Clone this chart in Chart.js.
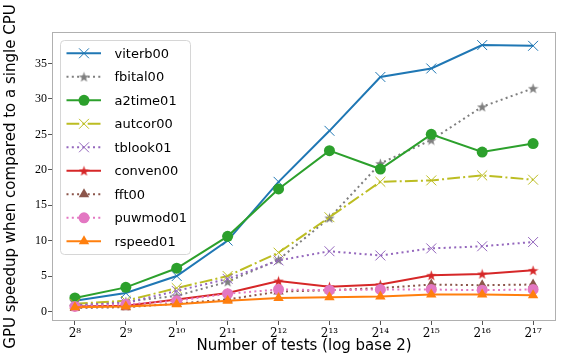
<!DOCTYPE html>
<html>
<head>
<meta charset="utf-8">
<script src="https://cdn.jsdelivr.net/npm/chart.js@4.4.1/dist/chart.umd.min.js"></script>
<style>
  html, body { margin: 0; padding: 0; background: #fff; }
  #wrap { width: 564px; height: 362px; }
</style>
</head>
<body>
<div id="wrap"><canvas id="speedupChart" width="564" height="362"></canvas></div>
<script>
// x values are the exponents of 2 (number of tests = 2^n)
const exponents = [8, 9, 10, 11, 12, 13, 14, 15, 16, 17];
const yTicks = [0, 5, 10, 15, 20, 25, 30, 35];

const viterb00 = [1.5, 2.6, 5.0, 10.0, 18.3, 25.5, 33.1, 34.3, 37.6, 37.5];
const fbital00 = [0.8, 1.4, 2.2, 4.2, 7.3, 13.2, 20.9, 24.2, 28.9, 31.5];
const a2time01 = [1.9, 3.4, 6.1, 10.6, 17.3, 22.7, 20.1, 25.0, 22.5, 23.7];
const autcor00 = [1.1, 1.5, 3.3, 5.0, 8.3, 13.3, 18.3, 18.5, 19.2, 18.6];
const tblook01 = [0.9, 1.2, 2.9, 4.6, 7.2, 8.5, 7.9, 8.9, 9.2, 9.8];
const conven00 = [0.7, 0.8, 1.7, 2.6, 4.3, 3.5, 3.8, 5.1, 5.3, 5.8];
const fft00    = [0.5, 0.6, 1.1, 1.7, 2.8, 3.0, 3.3, 3.8, 3.7, 3.8];
const puwmod01 = [0.7, 1.0, 1.5, 2.5, 3.1, 3.0, 3.1, 3.1, 3.0, 3.1];
const rspeed01 = [0.6, 0.7, 1.0, 1.5, 1.9, 2.0, 2.1, 2.4, 2.4, 2.3];

const DOTTED = [2, 3.3];
const DASHDOT = [12.8, 3.2, 2, 3.2];
const frameColor = '#b0b0b0';

// filled five point star, used as a pointStyle image
function starImage(color, size) {
  const c = document.createElement('canvas');
  c.width = size; c.height = size;
  const g = c.getContext('2d');
  const R = size / 2, r = R * 0.4;
  g.beginPath();
  for (let i = 0; i < 10; i++) {
    const a = -Math.PI / 2 + i * Math.PI / 5;
    const rad = i % 2 ? r : R;
    g.lineTo(R + rad * Math.cos(a), R + 0.6 + rad * Math.sin(a));
  }
  g.closePath();
  g.fillStyle = color;
  g.fill();
  return c;
}

const series = [
  { name: 'viterb00', values: viterb00, color: '#1f77b4', dash: [], marker: 'crossRot', radius: 7, bw: 1 },
  { name: 'fbital00', values: fbital00, color: '#7f7f7f', dash: DOTTED, marker: starImage('#7f7f7f', 11), radius: 5, bw: 0 },
  { name: 'a2time01', values: a2time01, color: '#2ca02c', dash: [], marker: 'circle', radius: 5.5, bw: 0 },
  { name: 'autcor00', values: autcor00, color: '#bcbd22', dash: DASHDOT, marker: 'crossRot', radius: 7, bw: 1 },
  { name: 'tblook01', values: tblook01, color: '#9467bd', dash: DOTTED, marker: 'crossRot', radius: 7, bw: 1 },
  { name: 'conven00', values: conven00, color: '#d62728', dash: [], marker: starImage('#d62728', 11), radius: 5, bw: 0 },
  { name: 'fft00', values: fft00, color: '#8c564b', dash: DOTTED, marker: 'triangle', radius: 6, bw: 0 },
  { name: 'puwmod01', values: puwmod01, color: '#e377c2', dash: DOTTED, marker: 'circle', radius: 5.5, bw: 0 },
  { name: 'rspeed01', values: rspeed01, color: '#ff7f0e', dash: [], marker: 'triangle', radius: 6, bw: 0 }
];

const datasets = series.map((s, i) => ({
  label: s.name,
  data: exponents.map((e, j) => ({ x: e, y: s.values[j] })),
  borderColor: s.color,
  backgroundColor: s.color,
  borderWidth: 2,
  borderDash: s.dash,
  pointStyle: s.marker,
  pointRadius: s.radius,
  pointBorderWidth: s.bw,
  pointBorderColor: s.color,
  pointBackgroundColor: s.color,
  order: series.length - i,
  tension: 0,
  fill: false
}));

const superDigits = { '0': '\u2070', '1': '\u00b9', '2': '\u00b2', '3': '\u00b3', '4': '\u2074',
  '5': '\u2075', '6': '\u2076', '7': '\u2077', '8': '\u2078', '9': '\u2079' };
function powLabel(n) {
  return '2' + String(n).split('').map(d => superDigits[d]).join('');
}

// frame around the axes and the legend box inside the plot
const frameAndLegend = {
  id: 'frameAndLegend',
  afterDraw(chart) {
    const ctx = chart.ctx;
    const a = chart.chartArea;
    ctx.save();
    ctx.strokeStyle = frameColor;
    ctx.lineWidth = 1;
    ctx.setLineDash([]);
    ctx.strokeRect(Math.round(a.left) + 0.5, Math.round(a.top) + 0.5,
      Math.round(a.right - a.left) - 1, Math.round(a.bottom - a.top) - 1);

    const bx = a.left + 8.5, by = a.top + 8.5, bw = 130, bh = 214;
    ctx.beginPath();
    ctx.roundRect(bx, by, bw, bh, 4);
    ctx.fillStyle = 'rgba(255,255,255,0.8)';
    ctx.fill();
    ctx.strokeStyle = '#d6d6d6';
    ctx.stroke();

    ctx.font = '13px "DejaVu Sans"';
    ctx.textBaseline = 'middle';
    ctx.textAlign = 'left';
    series.forEach((s, i) => {
      const y = a.top + 21.3 + i * 23.5;
      ctx.strokeStyle = s.color;
      ctx.fillStyle = s.color;
      ctx.lineWidth = 2;
      ctx.setLineDash(s.dash);
      ctx.beginPath();
      ctx.moveTo(bx + 6, y);
      ctx.lineTo(bx + 40.5, y);
      ctx.stroke();
      ctx.setLineDash([]);
      ctx.lineWidth = s.bw;
      Chart.helpers.drawPoint(ctx, { pointStyle: s.marker, radius: s.radius, rotation: 0, borderWidth: s.bw }, bx + 23.5, y);
      ctx.fillStyle = '#000';
      ctx.fillText(s.name, bx + 54, y + 1);
    });
    ctx.restore();
  }
};

new Chart(document.getElementById('speedupChart'), {
  type: 'line',
  data: { datasets: datasets },
  plugins: [frameAndLegend],
  options: {
    responsive: false,
    animation: false,
    devicePixelRatio: 1,
    layout: { padding: { top: 32, right: 2, left: 0, bottom: 0 } },
    plugins: { legend: { display: false }, tooltip: { enabled: false } },
    scales: {
      x: {
        type: 'linear',
        min: 7.55,
        max: 17.45,
        afterBuildTicks: s => { s.ticks = exponents.map(v => ({ value: v })); },
        afterFit: s => { s.height = 41; },
        border: { display: false },
        grid: { drawOnChartArea: false, drawTicks: true, tickLength: 4, color: '#555' },
        ticks: {
          callback: v => powLabel(v),
          color: '#000',
          padding: 2,
          maxRotation: 0,
          autoSkip: false,
          font: { family: '"DejaVu Serif", "Liberation Serif", serif', size: 12 }
        },
        title: {
          display: true,
          text: 'Number of tests (log base 2)',
          color: '#000',
          font: { family: '"DejaVu Sans"', size: 15 },
          padding: { top: 0, bottom: 7 }
        }
      },
      y: {
        type: 'linear',
        min: -1.35,
        max: 39.45,
        afterBuildTicks: s => { s.ticks = yTicks.map(v => ({ value: v })); },
        afterFit: s => { s.width = 52; },
        border: { display: false },
        grid: { drawOnChartArea: false, drawTicks: true, tickLength: 4, color: '#555' },
        ticks: {
          color: '#000',
          padding: 1,
          font: { family: '"Liberation Serif", serif', size: 12 }
        },
        title: {
          display: true,
          text: 'GPU speedup when compared to a single CPU',
          color: '#000',
          font: { family: '"DejaVu Sans"', size: 15 },
          padding: { top: 2, bottom: 0 }
        }
      }
    }
  }
});
</script>
</body>
</html>
